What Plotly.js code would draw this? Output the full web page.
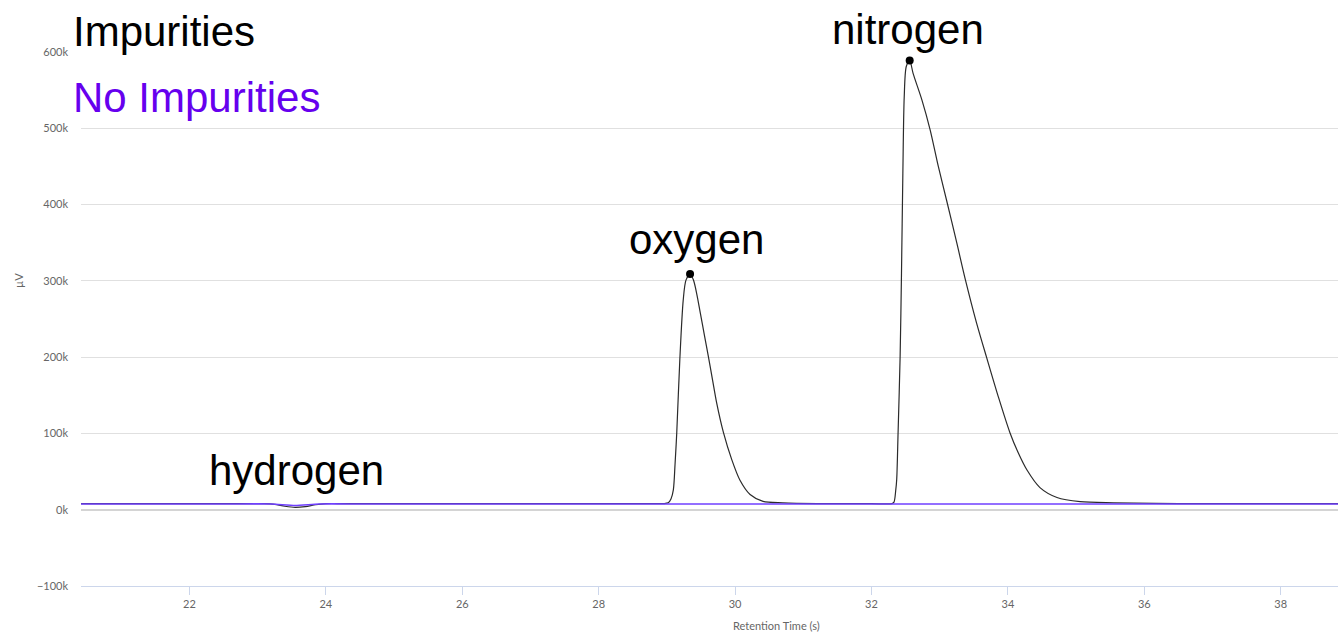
<!DOCTYPE html>
<html>
<head>
<meta charset="utf-8">
<script src="https://cdn.plot.ly/plotly-3.0.1.min.js"></script>
<style>
  html, body { margin: 0; padding: 0; background: #fff; }
  #chart { width: 1338px; height: 632px; }
</style>
</head>
<body>
<div id="chart"></div>
<script>
// Retention time (s) and signal (µV) for the sample with impurities
const impuritiesTime = [20.4, 22.0, 22.9, 23.1, 23.25, 23.4, 23.55, 23.7, 23.85, 24.0, 24.3, 28.7, 28.95, 29.02, 29.06, 29.095, 29.12, 29.145, 29.19, 29.24, 29.28, 29.34, 29.39, 29.44, 29.49, 29.55, 29.61, 29.67, 29.73, 29.83, 29.95, 30.07, 30.22, 30.41, 30.7, 31.2, 32.0, 32.3, 32.33, 32.355, 32.37, 32.39, 32.42, 32.44, 32.46, 32.48, 32.51, 32.56, 32.61, 32.74, 32.86, 32.98, 33.1, 33.25, 33.37, 33.54, 33.69, 33.86, 34.03, 34.15, 34.28, 34.47, 34.72, 35.06, 35.55, 36.5, 38.9];
const impuritiesSignal = [8000, 8000, 8000, 8000, 7000, 4500, 3000, 4000, 6500, 8000, 8000, 8000, 8000, 9000, 14000, 26000, 60000, 101000, 197000, 275000, 301000, 309000, 301000, 282000, 258000, 229000, 200000, 170000, 140000, 101000, 66000, 39000, 20000, 11000, 9000, 8000, 8000, 8000, 10000, 25000, 40000, 101000, 201000, 310000, 441000, 541000, 581000, 589000, 572000, 537000, 498000, 450000, 406000, 350000, 304000, 245000, 199000, 148000, 101000, 75000, 52000, 29000, 16000, 10500, 9000, 8000, 8000];

// Sample without impurities
const cleanTime = [20.4, 22.5, 23.2, 23.55, 23.9, 24.6, 38.9];
const cleanSignal = [7500, 7500, 7500, 5500, 7500, 7500, 7500];

// Peak maxima
const peakTime = [29.34, 32.56];
const peakSignal = [309000, 589000];

// Axis ticks
const xTickVals = [22, 24, 26, 28, 30, 32, 34, 36, 38];
const yTickVals = [-100000, 0, 100000, 200000, 300000, 400000, 500000, 600000];
const yTickText = ['−100k', '0k', '100k', '200k', '300k', '400k', '500k', '600k'];

const seriesNames = ['Impurities', 'No Impurities'];
const peakNames = ['hydrogen', 'oxygen', 'nitrogen'];

const tickFont = { family: 'Lato, "Open Sans", sans-serif', size: 11, color: '#666666' };
const bigFont = { family: '"Liberation Sans", Arial, sans-serif', size: 42, color: '#000000' };

const traces = [
  {
    x: impuritiesTime, y: impuritiesSignal, type: 'scatter', mode: 'lines',
    name: seriesNames[0], line: { color: '#2b2b2b', width: 1.2, shape: 'spline', smoothing: 0.8 },
    hoverinfo: 'x+y'
  },
  {
    x: cleanTime, y: cleanSignal, type: 'scatter', mode: 'lines',
    name: seriesNames[1], line: { color: '#7040ff', width: 1.6, shape: 'spline', smoothing: 0.6 },
    hoverinfo: 'x+y'
  },
  {
    x: peakTime, y: peakSignal, type: 'scatter', mode: 'markers',
    marker: { color: '#000000', size: 8 }, cliponaxis: false, showlegend: false, hoverinfo: 'x+y'
  }
];

function px2paperX(px) { return (px - 81) / 1257; }
function px2paperY(py) { return (586 - py) / 534; }

const layout = {
  width: 1338, height: 632,
  margin: { l: 81, r: 0, t: 52, b: 46, pad: 0 },
  paper_bgcolor: '#ffffff', plot_bgcolor: '#ffffff',
  showlegend: false,
  xaxis: {
    range: [20.41, 38.84],
    tickvals: xTickVals,
    ticks: 'outside', ticklen: 8, tickcolor: '#ccd6eb', tickwidth: 1,
    showline: true, linecolor: '#ccd6eb', linewidth: 1,
    showgrid: false, zeroline: false,
    tickfont: tickFont
  },
  yaxis: {
    range: [-100000, 600000],
    tickvals: yTickVals, ticktext: yTickText,
    ticks: '', ticklabelstandoff: 12,
    showgrid: true, gridcolor: '#e0e0e0', gridwidth: 1,
    zeroline: true, zerolinecolor: '#d4d4d4', zerolinewidth: 2, showline: false,
    tickfont: tickFont
  },
  annotations: [
    { text: seriesNames[0], xref: 'paper', yref: 'paper', x: px2paperX(71), y: px2paperY(32), xanchor: 'left', yanchor: 'middle', showarrow: false, font: bigFont },
    { text: seriesNames[1], xref: 'paper', yref: 'paper', x: px2paperX(71), y: px2paperY(97), xanchor: 'left', yanchor: 'middle', showarrow: false, font: Object.assign({}, bigFont, { color: '#6600ee' }) },
    { text: peakNames[0], xref: 'paper', yref: 'paper', x: px2paperX(296), y: px2paperY(470), xanchor: 'center', yanchor: 'middle', showarrow: false, font: bigFont },
    { text: peakNames[1], xref: 'paper', yref: 'paper', x: px2paperX(696), y: px2paperY(240), xanchor: 'center', yanchor: 'middle', showarrow: false, font: bigFont },
    { text: peakNames[2], xref: 'paper', yref: 'paper', x: px2paperX(908), y: px2paperY(30), xanchor: 'center', yanchor: 'middle', showarrow: false, font: bigFont },
    { text: 'Retention Time (s)', xref: 'paper', yref: 'paper', x: px2paperX(777), y: px2paperY(625), xanchor: 'center', yanchor: 'middle', showarrow: false, font: tickFont },
    { text: 'µV', xref: 'paper', yref: 'paper', x: px2paperX(18), y: px2paperY(281), xanchor: 'center', yanchor: 'middle', textangle: -90, showarrow: false, font: tickFont }
  ]
};

Plotly.newPlot('chart', traces, layout, { displayModeBar: false, responsive: false });
</script>
</body>
</html>
